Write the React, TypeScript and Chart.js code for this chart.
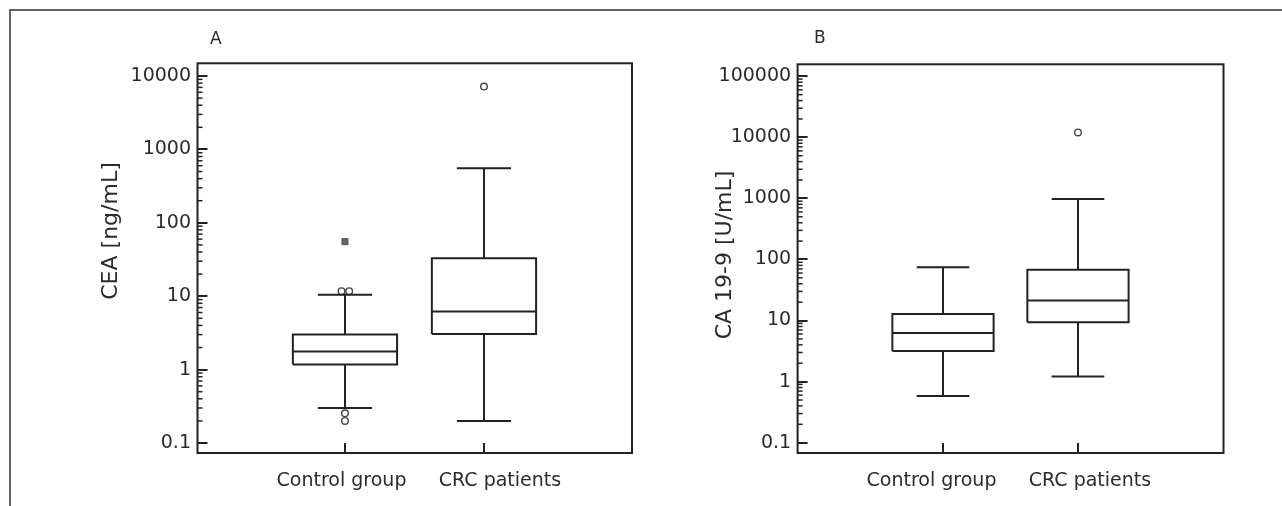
import React, { useEffect, useRef } from 'react';
import { Chart, registerables } from 'chart.js';

Chart.register(...registerables);

// ---------- data ----------
const categories = ['Control group', 'CRC patients'];
const categoryPositions = [1, 2];

// Panel A – CEA [ng/mL]
const ceaLowerWhisker = [0.3, 0.2];
const ceaQ1 = [1.17, 3.06];
const ceaMedian = [1.76, 6.17];
const ceaQ3 = [3.0, 32.8];
const ceaUpperWhisker = [10.5, 552];
const ceaOutlierX = [0.975, 1.03, 1, 1, 2];
const ceaOutlierY = [11.7, 11.7, 0.254, 0.2, 7170];
const ceaFarOutlierX = [1];
const ceaFarOutlierY = [55.4];
const ceaTickValues = [0.1, 1, 10, 100, 1000, 10000];
const ceaTickLabels = ['0.1', '1', '10', '100', '1000', '10000'];

// Panel B – CA 19-9 [U/mL]
const caLowerWhisker = [0.583, 1.21];
const caQ1 = [3.18, 9.35];
const caMedian = [6.27, 21.2];
const caQ3 = [12.8, 68];
const caUpperWhisker = [74.3, 977];
const caOutlierX = [2];
const caOutlierY = [12030];
const caFarOutlierX: number[] = [];
const caFarOutlierY: number[] = [];
const caTickValues = [0.1, 1, 10, 100, 1000, 10000, 100000];
const caTickLabels = ['0.1', '1', '10', '100', '1000', '10000', '100000'];

// ---------- styles ----------
const BOX_HALF = 0.375;
const CAP_HALF = 0.195;
const INK = '#222222';
const TEXT = '#2b2b2b';
const FONT = "'DejaVu Sans', sans-serif";

type Panel = {
  letter: string;
  yTitle: string;
  lower: number[];
  q1: number[];
  median: number[];
  q3: number[];
  upper: number[];
  outX: number[];
  outY: number[];
  farX: number[];
  farY: number[];
  tickValues: number[];
  tickLabels: string[];
  yMin: number;
  yMax: number;
  xMin: number;
  xMax: number;
  canvasLeft: number;
  canvasWidth: number;
  padTop: number;
  padRight: number;
  yAxisWidth: number;
  titleX: number;
  titleY: number;
  letterX: number;
  letterY: number;
  labelShift: number[];
};

const panels: Panel[] = [
  {
    letter: 'A',
    yTitle: 'CEA [ng/mL]',
    lower: ceaLowerWhisker,
    q1: ceaQ1,
    median: ceaMedian,
    q3: ceaQ3,
    upper: ceaUpperWhisker,
    outX: ceaOutlierX,
    outY: ceaOutlierY,
    farX: ceaFarOutlierX,
    farY: ceaFarOutlierY,
    tickValues: ceaTickValues,
    tickLabels: ceaTickLabels,
    yMin: 0.0731,
    yMax: 14900,
    xMin: -0.061,
    xMax: 3.065,
    canvasLeft: 0,
    canvasWidth: 640,
    padTop: 63.3,
    padRight: 8,
    yAxisWidth: 197.5,
    titleX: 111.7,
    titleY: 231,
    letterX: 210,
    letterY: 44,
    labelShift: [-3.5, 16],
  },
  {
    letter: 'B',
    yTitle: 'CA 19-9 [U/mL]',
    lower: caLowerWhisker,
    q1: caQ1,
    median: caMedian,
    q3: caQ3,
    upper: caUpperWhisker,
    outX: caOutlierX,
    outY: caOutlierY,
    farX: caFarOutlierX,
    farY: caFarOutlierY,
    tickValues: caTickValues,
    tickLabels: caTickLabels,
    yMin: 0.0678,
    yMax: 157000,
    xMin: -0.077,
    xMax: 3.078,
    canvasLeft: 640,
    canvasWidth: 642,
    padTop: 64.3,
    padRight: 58.5,
    yAxisWidth: 157.6,
    titleX: 85,
    titleY: 255,
    letterX: 174,
    letterY: 43,
    labelShift: [-11.5, 12],
  },
];

const CANVAS_H = 506;
const X_AXIS_H = 53;
const X_LABEL_BASELINE = 33;

function buildDatasets(p: Panel) {
  const box: any[] = [];
  const med: any[] = [];
  const whisk: any[] = [];
  const caps: any[] = [];
  categoryPositions.forEach((x, i) => {
    box.push(
      { x: x - BOX_HALF, y: p.q1[i] },
      { x: x + BOX_HALF, y: p.q1[i] },
      { x: x + BOX_HALF, y: p.q3[i] },
      { x: x - BOX_HALF, y: p.q3[i] },
      { x: x - BOX_HALF, y: p.q1[i] },
      { x: x, y: null }
    );
    med.push({ x: x - BOX_HALF, y: p.median[i] }, { x: x + BOX_HALF, y: p.median[i] }, { x, y: null });
    whisk.push(
      { x, y: p.lower[i] },
      { x, y: p.q1[i] },
      { x, y: null },
      { x, y: p.q3[i] },
      { x, y: p.upper[i] },
      { x, y: null }
    );
    caps.push(
      { x: x - CAP_HALF, y: p.lower[i] },
      { x: x + CAP_HALF, y: p.lower[i] },
      { x, y: null },
      { x: x - CAP_HALF, y: p.upper[i] },
      { x: x + CAP_HALF, y: p.upper[i] },
      { x, y: null }
    );
  });
  const lineStyle = {
    type: 'line' as const,
    borderColor: INK,
    borderWidth: 2,
    pointRadius: 0,
    fill: false,
    tension: 0,
    spanGaps: false,
    borderJoinStyle: 'miter' as const,
    borderCapStyle: 'butt' as const,
  };
  return [
    { ...lineStyle, label: 'Whiskers', data: whisk },
    { ...lineStyle, label: 'Caps', data: caps },
    { ...lineStyle, label: 'Box', data: box },
    { ...lineStyle, label: 'Median', data: med },
    {
      type: 'scatter' as const,
      label: 'Outliers',
      data: p.outX.map((x, i) => ({ x, y: p.outY[i] })),
      pointStyle: 'circle',
      pointRadius: 3.3,
      pointBorderWidth: 1.4,
      pointBorderColor: '#444',
      pointBackgroundColor: '#fff',
      showLine: false,
    },
    {
      type: 'scatter' as const,
      label: 'Far outliers',
      data: p.farX.map((x, i) => ({ x, y: p.farY[i] })),
      pointStyle: 'rect',
      pointRadius: 4.3,
      pointBorderWidth: 1,
      pointBorderColor: '#555',
      pointBackgroundColor: '#666',
      showLine: false,
    },
  ];
}

function makeDecorPlugin(p: Panel) {
  return {
    id: 'panelDecor' + p.letter,
    afterDraw(chart: any) {
      const { ctx, chartArea } = chart;
      const ys = chart.scales.y;
      const xs = chart.scales.x;
      ctx.save();
      // frame of the plot area
      ctx.strokeStyle = INK;
      ctx.lineWidth = 2;
      ctx.strokeRect(chartArea.left, chartArea.top, chartArea.right - chartArea.left, chartArea.bottom - chartArea.top);
      // y ticks (major + minor), drawn inward
      const first = Math.round(Math.log10(p.tickValues[0]));
      const last = Math.round(Math.log10(p.tickValues[p.tickValues.length - 1]));
      ctx.lineWidth = 2;
      for (const v of p.tickValues) {
        const y = Math.round(ys.getPixelForValue(v));
        ctx.beginPath();
        ctx.moveTo(chartArea.left, y);
        ctx.lineTo(chartArea.left + 10, y);
        ctx.stroke();
      }
      ctx.lineWidth = 1.5;
      for (let d = first; d < last; d++) {
        for (let m = 2; m <= 9; m++) {
          const y = ys.getPixelForValue(m * Math.pow(10, d));
          ctx.beginPath();
          ctx.moveTo(chartArea.left, y);
          ctx.lineTo(chartArea.left + 5, y);
          ctx.stroke();
        }
      }
      // x ticks, drawn inward, and category labels
      ctx.lineWidth = 2;
      ctx.fillStyle = TEXT;
      ctx.font = `19px ${FONT}`;
      ctx.textAlign = 'center';
      ctx.textBaseline = 'alphabetic';
      categoryPositions.forEach((c, i) => {
        const x = Math.round(xs.getPixelForValue(c));
        ctx.beginPath();
        ctx.moveTo(x, chartArea.bottom);
        ctx.lineTo(x, chartArea.bottom - 10);
        ctx.stroke();
        ctx.fillText(categories[i], x + p.labelShift[i], chartArea.bottom + X_LABEL_BASELINE);
      });
      // y axis title
      ctx.font = `22px ${FONT}`;
      ctx.textAlign = 'center';
      ctx.textBaseline = 'middle';
      ctx.translate(p.titleX, p.titleY);
      ctx.rotate(-Math.PI / 2);
      ctx.fillText(p.yTitle, 0, 0);
      ctx.restore();
      // panel letter
      ctx.save();
      ctx.fillStyle = TEXT;
      ctx.font = `17px ${FONT}`;
      ctx.textAlign = 'left';
      ctx.textBaseline = 'alphabetic';
      ctx.fillText(p.letter, p.letterX, p.letterY);
      ctx.restore();
    },
  };
}

function PanelChart({ p }: { p: Panel }) {
  const ref = useRef<HTMLCanvasElement | null>(null);
  useEffect(() => {
    if (!ref.current) return;
    const chart = new Chart(ref.current, {
      type: 'line',
      data: { datasets: buildDatasets(p) as any },
      options: {
        animation: false,
        responsive: false,
        devicePixelRatio: 1,
        events: [],
        layout: { padding: { left: 0, right: p.padRight, top: p.padTop, bottom: 0 } },
        plugins: { legend: { display: false }, tooltip: { enabled: false }, title: { display: false } },
        scales: {
          x: {
            type: 'linear',
            min: p.xMin,
            max: p.xMax,
            grid: { display: false, drawTicks: false },
            border: { display: false },
            afterBuildTicks: (scale: any) => {
              scale.ticks = categoryPositions.map((v) => ({ value: v }));
            },
            afterFit: (scale: any) => {
              scale.height = X_AXIS_H;
            },
            ticks: { display: false },
          },
          y: {
            type: 'logarithmic',
            min: p.yMin,
            max: p.yMax,
            grid: { display: false, drawTicks: false },
            border: { display: false },
            afterBuildTicks: (scale: any) => {
              scale.ticks = p.tickValues.map((v) => ({ value: v }));
            },
            afterFit: (scale: any) => {
              scale.width = p.yAxisWidth;
            },
            ticks: {
              autoSkip: false,
              padding: 6.5,
              color: TEXT,
              font: { family: FONT, size: 19 },
              callback: (v: any) => {
                const idx = p.tickValues.findIndex((t) => Math.abs(t - Number(v)) / t < 1e-6);
                return idx >= 0 ? p.tickLabels[idx] : '';
              },
            },
          },
        },
      },
      plugins: [makeDecorPlugin(p)],
    });
    return () => chart.destroy();
  }, [p]);
  return (
    <canvas
      ref={ref}
      width={p.canvasWidth}
      height={CANVAS_H}
      style={{ position: 'absolute', left: p.canvasLeft, top: 0, width: p.canvasWidth, height: CANVAS_H }}
    />
  );
}

export default function App() {
  return (
    <div style={{ position: 'absolute', left: 0, top: 0, width: 1282, height: 506, background: '#fff', overflow: 'hidden' }}>
      <div
        style={{
          position: 'absolute',
          left: 9,
          top: 9,
          width: 1282,
          height: 506,
          borderTop: '2px solid #636363',
          borderLeft: '2px solid #636363',
        }}
      />
      {panels.map((p) => (
        <PanelChart key={p.letter} p={p} />
      ))}
    </div>
  );
}
